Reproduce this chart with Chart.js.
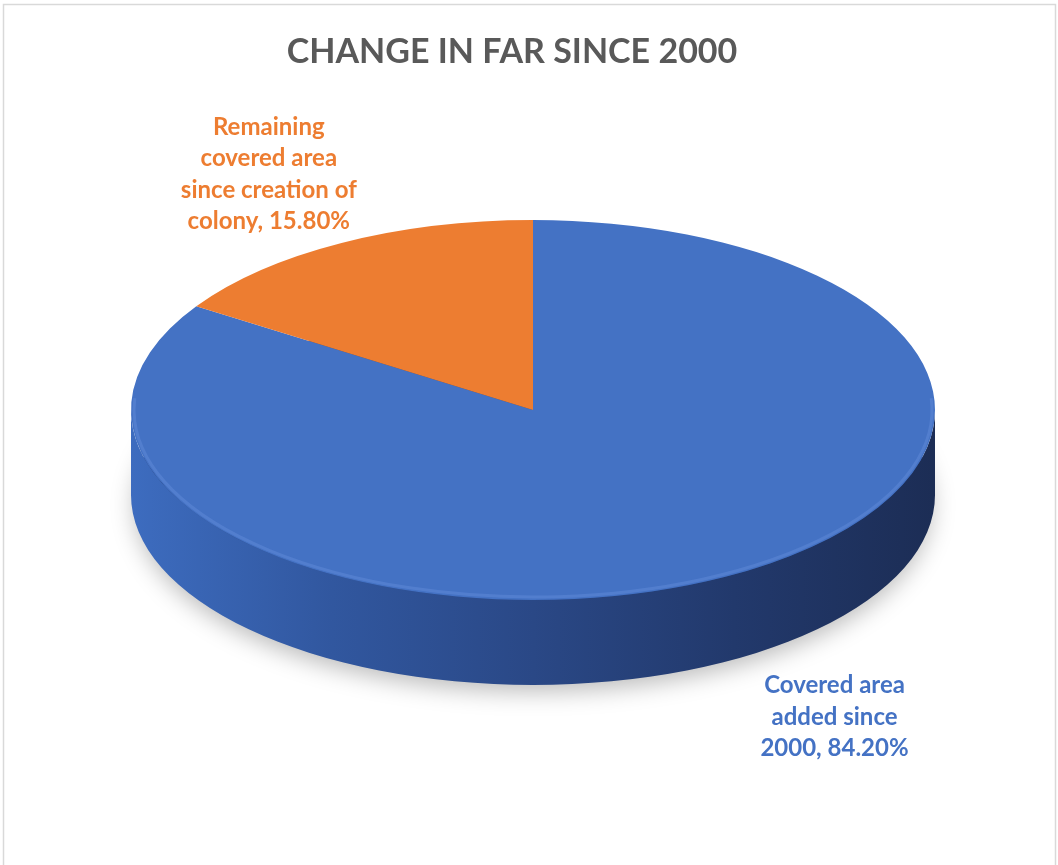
<!DOCTYPE html>
<html>
<head>
<meta charset="utf-8">
<script src="https://cdn.jsdelivr.net/npm/chart.js@4.4.1/dist/chart.umd.min.js"></script>
<style>
  body { margin: 0; background: #fff; overflow: hidden; }
  #wrap { width: 1058px; height: 865px; position: relative; }
</style>
</head>
<body>
<div id="wrap"><canvas id="pieChart"></canvas></div>
<script>
const chartTitle = 'CHANGE IN FAR SINCE 2000';
const categories = ['Covered area added since 2000', 'Remaining covered area since creation of colony'];
const shares = [84.2, 15.8];
const sliceColors = ['#4472c4', '#ed7d31'];

// look of the tilted disc
const tilt = 190 / 402;
const depth = 85;
const labelFont = 'bold 24px Lato';

function wrapText(ctx, text, maxWidth) {
    const words = text.split(' ');
    const lines = [];
    let line = '';
    words.forEach(w => {
        const test = line ? line + ' ' + w : w;
        if (line && ctx.measureText(test).width > maxWidth) {
            lines.push(line);
            line = w;
        } else {
            line = test;
        }
    });
    if (line) lines.push(line);
    return lines;
}

// pieces of [a0,a1] that face the viewer (angles 0..PI, any turn)
function frontParts(a0, a1) {
    const parts = [];
    for (let k = -2; k <= 2; k++) {
        const s = Math.max(a0, k * 2 * Math.PI);
        const e = Math.min(a1, k * 2 * Math.PI + Math.PI);
        if (e > s) parts.push([s, e]);
    }
    return parts;
}

const sideStops = {
    '#4472c4': ['#3d6cbf', '#31579f', '#2a4886', '#22396c', '#1c2d55'],
    '#ed7d31': ['#d06a25', '#b85c1f', '#a0501a', '#884415', '#703811']
};

const pie3d = {
    id: 'pie3d',
    beforeDraw(chart) {
        const ctx = chart.ctx;
        ctx.save();
        ctx.strokeStyle = '#d9d9d9';
        ctx.lineWidth = 1.5;
        ctx.strokeRect(3.5, 4.5, 1052, 900);
        ctx.restore();
    },
    beforeDatasetsDraw(chart) {
        const ctx = chart.ctx;
        const arcs = chart.getDatasetMeta(0).data;
        const { x, y, outerRadius: r } = arcs[0];
        const ry = r * tilt;

        // soft shadow under the disc
        ctx.save();
        ctx.shadowColor = 'rgba(0,0,0,0.28)';
        ctx.shadowBlur = 24;
        ctx.shadowOffsetY = 10;
        ctx.fillStyle = '#2a4886';
        ctx.beginPath();
        ctx.ellipse(x, y + depth, r - 4, ry - 4, 0, 0, Math.PI * 2);
        ctx.fill();
        ctx.restore();

        // side wall, slice by slice
        arcs.forEach((arc, i) => {
            const stops = sideStops[sliceColors[i]];
            const grad = ctx.createLinearGradient(x - r, 0, x + r, 0);
            stops.forEach((c, j) => grad.addColorStop(j / (stops.length - 1), c));
            frontParts(arc.startAngle, arc.endAngle).forEach(([s, e]) => {
                ctx.beginPath();
                ctx.ellipse(x, y + depth, r, ry, 0, s, e);
                ctx.ellipse(x, y, r, ry, 0, e, s, true);
                ctx.closePath();
                ctx.fillStyle = grad;
                ctx.fill();
            });
        });

        // squash the flat pie into the top face
        ctx.save();
        ctx.translate(x, y);
        ctx.scale(1, tilt);
        ctx.translate(-x, -y);
    },
    afterDatasetsDraw(chart) {
        const ctx = chart.ctx;
        ctx.restore();
        const arcs = chart.getDatasetMeta(0).data;
        const { x, y, outerRadius: r } = arcs[0];
        const ry = r * tilt;

        // faint bevel along the front rim
        ctx.save();
        ctx.strokeStyle = 'rgba(110,150,225,0.35)';
        ctx.lineWidth = 3;
        ctx.beginPath();
        ctx.ellipse(x, y, r - 3, ry - 3, 0, -0.02 * Math.PI, 1.02 * Math.PI);
        ctx.stroke();
        ctx.restore();
    },
    afterDraw(chart, args, opts) {
        const ctx = chart.ctx;
        const arcs = chart.getDatasetMeta(0).data;
        const { x, y, outerRadius: r } = arcs[0];
        const ry = r * tilt;

        ctx.save();
        ctx.textAlign = 'center';
        ctx.textBaseline = 'middle';
        ctx.fillStyle = '#595959';
        ctx.font = 'bold 34px Lato';
        ctx.fillText(chartTitle, opts.titleX, opts.titleY);

        ctx.font = labelFont;
        arcs.forEach((arc, i) => {
            const mid = (arc.startAngle + arc.endAngle) / 2;
            const pos = opts.labelPos[i];
            const lx = x + Math.cos(mid) * r * pos.fx;
            const ly = y + Math.sin(mid) * ry * pos.fy + (Math.sin(mid) > 0 ? depth : 0);
            const text = categories[i] + ', ' + shares[i].toFixed(2) + '%';
            const lines = wrapText(ctx, text, opts.wrapWidth);
            const lh = 31.5;
            ctx.fillStyle = sliceColors[i];
            lines.forEach((ln, j) => {
                ctx.fillText(ln, lx, ly + (j - (lines.length - 1) / 2) * lh);
            });
        });
        ctx.restore();
    }
};

new Chart(document.getElementById('pieChart'), {
    type: 'pie',
    data: {
        labels: categories,
        datasets: [{
            data: shares,
            backgroundColor: sliceColors,
            borderWidth: 0,
            radius: 402,
            clip: false
        }]
    },
    options: {
        responsive: true,
        maintainAspectRatio: false,
        animation: false,
        layout: { padding: { top: 82, bottom: 127, left: 8, right: 0 } },
        plugins: {
            legend: { display: false },
            title: { display: false },
            tooltip: { enabled: false },
            pie3d: {
                titleX: 512,
                titleY: 52,
                wrapWidth: 180,
                labelPos: [{ fx: 1.575, fy: 1.33 }, { fx: 1.38, fy: 1.41 }]
            }
        }
    },
    plugins: [pie3d]
});
</script>
</body>
</html>
